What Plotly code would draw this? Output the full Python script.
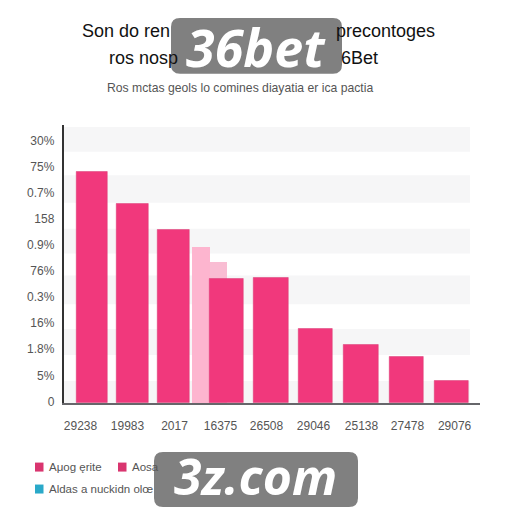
import plotly.graph_objects as go

# values, in axis tick units
y_tick_labels = ["0", "5%", "1.8%", "16%", "0.3%", "76%", "0.9%", "158", "0.7%", "75%", "30%"]
x_tick_labels = ["29238", "19983", "2017", "16375", "26508", "29046", "25138", "27478", "29076"]
x_tick_pos = [-0.256, 0.789, 1.833, 2.856, 3.878, 4.922, 5.989, 7.011, 8.056]

bar_index = [0, 1, 2, 3, 4, 5, 6, 7, 8]
bar_values = [8.9, 7.67, 6.67, 4.76, 4.8, 2.84, 2.23, 1.77, 0.85]
bar_widths = [0.69, 0.71, 0.71, 0.76, 0.78, 0.76, 0.78, 0.76, 0.76]
bar_shifts = [0, -0.1, -0.19, -0.01, -0.02, -0.03, -0.02, -0.01, -0.01]

light_index = [2.41, 2.8]
light_values = [6.0, 5.42]
light_widths = [0.42, 0.38]
light_colors = ["#fdb5cf", "#f9bdd3"]

band_low = [0, 1.85, 3.8, 5.75, 7.7, 9.65]
band_high = [0.85, 2.85, 4.9, 6.7, 8.75, 10.6]

legend_labels = ["Aμog ęrite", "Aosa", "Aldas a nuckidn olœ"]
legend_colors = ["#d9356f", "#d9356f", "#2aa9c9"]
legend_x = [35, 118, 35]
legend_y = [468, 468, 490]

PINK = "#f1387c"
W = H = 512
PAPER_H = 508  # paper height as it comes out in the picture
TEXT_FONT = "Liberation Sans"


def px_x(v):
    return v / W


def px_y(v):
    return 1 - v / PAPER_H


def round_rect(x0, y0, x1, y1, r):
    return (f"M {px_x(x0 + r)} {px_y(y0)} L {px_x(x1 - r)} {px_y(y0)} "
            f"Q {px_x(x1)} {px_y(y0)} {px_x(x1)} {px_y(y0 + r)} L {px_x(x1)} {px_y(y1 - r)} "
            f"Q {px_x(x1)} {px_y(y1)} {px_x(x1 - r)} {px_y(y1)} L {px_x(x0 + r)} {px_y(y1)} "
            f"Q {px_x(x0)} {px_y(y1)} {px_x(x0)} {px_y(y1 - r)} L {px_x(x0)} {px_y(y0 + r)} "
            f"Q {px_x(x0)} {px_y(y0)} {px_x(x0 + r)} {px_y(y0)} Z")


def label(text, x, y, size, color="#222222", anchor="center", font=TEXT_FONT):
    fig.add_annotation(text=text, x=px_x(x), y=px_y(y), xref="paper", yref="paper", showarrow=False,
                       xanchor=anchor, yanchor="middle",
                       font=dict(size=size, color=color, family=font))


fig = go.Figure()

fig.add_bar(x=light_index, y=light_values, width=light_widths, marker=dict(color=light_colors, line_width=0))
fig.add_bar(x=bar_index, y=bar_values, width=bar_widths,
            offset=[s - w / 2 for s, w in zip(bar_shifts, bar_widths)],
            marker=dict(color=PINK, line=dict(color="#d93a74", width=0.5)))

for low, high in zip(band_low, band_high):
    fig.add_shape(type="rect", xref="x", yref="y", x0=-0.62, x1=8.4, y0=low, y1=high,
                  fillcolor="#f6f6f7", line_width=0, layer="below")

for text, color, x, y in zip(legend_labels, legend_colors, legend_x, legend_y):
    fig.add_shape(type="rect", xref="paper", yref="paper", x0=px_x(x), x1=px_x(x + 8.5),
                  y0=px_y(y + 4.5), y1=px_y(y - 4.5), fillcolor=color, line_width=0)
    label(text, x + 12, y, 11.5, "#555555", "left")

# the middle of both title lines sits under the 36bet stamp
label("Son do ren", 80, 31, 18, "#111111", "left")
label("precontoges", 437, 31, 18, "#111111", "right")
label("ros nosp", 107, 58, 18, "#111111", "left")
label("6Bet", 380, 58, 18, "#111111", "right")
label("Ros mctas geols lo comines diayatia er ica pactia", 240, 88, 12.2, "#555555")

# stamps lying over the chart
fig.add_shape(type="path", xref="paper", yref="paper", path=round_rect(171, 18, 342, 74, 9),
              fillcolor="#808080", line_width=0, layer="above")
fig.add_shape(type="path", xref="paper", yref="paper", path=round_rect(154, 453, 358, 508, 9),
              fillcolor="#808080", line_width=0, layer="above")
label("<b><i>36bet</i></b>", 256, 47, 52, "#ffffff", font="Open Sans")
label("<b><i>3z.com</i></b>", 255, 477, 50, "#ffffff", font="Open Sans")

fig.update_layout(
    width=W, height=H, barmode="overlay", showlegend=False,
    paper_bgcolor="white", plot_bgcolor="white", bargap=0,
    margin=dict(l=0, r=0, t=0, b=0),
    font=dict(family=TEXT_FONT, size=12, color="#555555"),
)
fig.update_xaxes(domain=[63.5 / W, 479.5 / W], range=[-0.633, 8.61], showgrid=False, zeroline=False,
                 tickmode="array", tickvals=x_tick_pos, ticktext=x_tick_labels, ticks="",
                 ticklabelstandoff=11, showline=True, linecolor="#66666a", linewidth=1.5)
fig.update_yaxes(domain=[px_y(404), px_y(125)], range=[0, 10.69], showgrid=False, zeroline=False,
                 tickmode="array", tickvals=[i + 0.07 for i in range(len(y_tick_labels))],
                 ticktext=y_tick_labels, ticks="", ticklabelstandoff=5,
                 showline=True, linecolor="#333333", linewidth=1.5)

fig.write_html("out.html", config={"displayModeBar": False}, post_script="document.body.style.margin='0';")
